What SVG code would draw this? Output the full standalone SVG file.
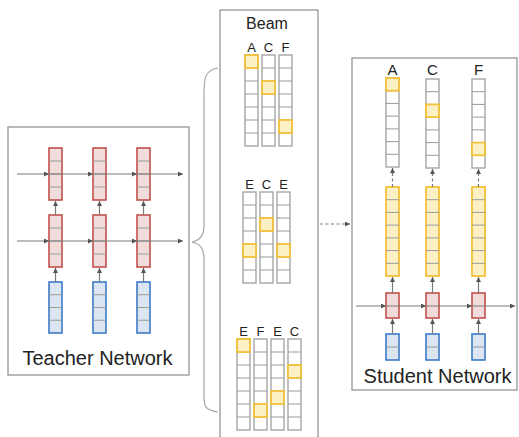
<svg xmlns="http://www.w3.org/2000/svg" width="519" height="437" viewBox="0 0 519 437">
<style>
.box{fill:#fff;stroke:#8c8c8c;stroke-width:1.2}
.red{fill:#f2dcdb;stroke:#c0504d;stroke-width:1.6}
.blue{fill:#dce6f2;stroke:#3d7bc6;stroke-width:1.6}
.yel{fill:#fdf0c4;stroke:#f3c13a;stroke-width:1.8}
.cell{fill:#fff;stroke:#a6a6a6;stroke-width:1.4}
.div{fill:none;stroke:#9a9a9a;stroke-width:1}
.arr{fill:none;stroke:#7a7a7a;stroke-width:1.2}
.dash{fill:none;stroke:#7a7a7a;stroke-width:1.2;stroke-dasharray:3,2.5}
.lbl{font-family:"Liberation Sans","Open Sans",sans-serif;fill:#222;text-anchor:middle}
</style>
<defs>
<marker id="ah" viewBox="0 0 6 6" refX="6" refY="3" markerWidth="5" markerHeight="5" orient="auto" markerUnits="userSpaceOnUse">
<path d="M0,0 L6,3 L0,6 z" fill="#555"/>
</marker>
</defs>

<!-- Teacher network -->
<g id="teacher">
<rect class="box" x="8" y="127" width="181" height="248"/>
<g id="t-red1">
<rect class="red" x="49" y="148" width="13" height="52"/>
<rect class="red" x="93" y="148" width="13" height="52"/>
<rect class="red" x="137" y="148" width="13" height="52"/>
<path class="div" d="M49,161H62M49,174H62M49,187H62M93,161H106M93,174H106M93,187H106M137,161H150M137,174H150M137,187H150"/>
</g>
<g id="t-red2">
<rect class="red" x="49" y="215" width="13" height="52"/>
<rect class="red" x="93" y="215" width="13" height="52"/>
<rect class="red" x="137" y="215" width="13" height="52"/>
<path class="div" d="M49,228H62M49,241H62M49,254H62M93,228H106M93,241H106M93,254H106M137,228H150M137,241H150M137,254H150"/>
</g>
<g id="t-blue">
<rect class="blue" x="49" y="282" width="13" height="51"/>
<rect class="blue" x="93" y="282" width="13" height="51"/>
<rect class="blue" x="137" y="282" width="13" height="51"/>
<path class="div" d="M49,294.75H62M49,307.5H62M49,320.25H62M93,294.75H106M93,307.5H106M93,320.25H106M137,294.75H150M137,307.5H150M137,320.25H150"/>
</g>
<text class="lbl" x="97.5" y="365" font-size="20">Teacher Network</text>
</g>

<!-- Beam -->
<g id="beam">
<rect class="box" x="220" y="10" width="98" height="440"/>
<text class="lbl" x="267" y="29" font-size="16">Beam</text>
<g id="beam1">
<text class="lbl" x="251.5" y="52" font-size="13">A</text>
<text class="lbl" x="268.5" y="52" font-size="13">C</text>
<text class="lbl" x="285.5" y="52" font-size="13">F</text>
<rect class="cell" x="245" y="55" width="13" height="91"/>
<rect class="cell" x="262" y="55" width="13" height="91"/>
<rect class="cell" x="279" y="55" width="13" height="91"/>
<path class="div" d="M245,68H258M245,81H258M245,94H258M245,107H258M245,120H258M245,133H258M262,68H275M262,81H275M262,94H275M262,107H275M262,120H275M262,133H275M279,68H292M279,81H292M279,94H292M279,107H292M279,120H292M279,133H292"/>
<rect class="yel" x="245" y="55" width="13" height="13"/>
<rect class="yel" x="262" y="81" width="13" height="13"/>
<rect class="yel" x="279" y="120" width="13" height="13"/>
</g>
<g id="beam2">
<text class="lbl" x="249.5" y="189" font-size="13">E</text>
<text class="lbl" x="266.5" y="189" font-size="13">C</text>
<text class="lbl" x="283.5" y="189" font-size="13">E</text>
<rect class="cell" x="243" y="192" width="13" height="91"/>
<rect class="cell" x="260" y="192" width="13" height="91"/>
<rect class="cell" x="277" y="192" width="13" height="91"/>
<path class="div" d="M243,205H256M243,218H256M243,231H256M243,244H256M243,257H256M243,270H256M260,205H273M260,218H273M260,231H273M260,244H273M260,257H273M260,270H273M277,205H290M277,218H290M277,231H290M277,244H290M277,257H290M277,270H290"/>
<rect class="yel" x="243" y="244" width="13" height="13"/>
<rect class="yel" x="260" y="218" width="13" height="13"/>
<rect class="yel" x="277" y="244" width="13" height="13"/>
</g>
<g id="beam3">
<text class="lbl" x="243.5" y="336" font-size="13">E</text>
<text class="lbl" x="260.5" y="336" font-size="13">F</text>
<text class="lbl" x="277.5" y="336" font-size="13">E</text>
<text class="lbl" x="294.5" y="336" font-size="13">C</text>
<rect class="cell" x="237" y="339" width="13" height="91"/>
<rect class="cell" x="254" y="339" width="13" height="91"/>
<rect class="cell" x="271" y="339" width="13" height="91"/>
<rect class="cell" x="288" y="339" width="13" height="91"/>
<path class="div" d="M237,352H250M237,365H250M237,378H250M237,391H250M237,404H250M237,417H250M254,352H267M254,365H267M254,378H267M254,391H267M254,404H267M254,417H267M271,352H284M271,365H284M271,378H284M271,391H284M271,404H284M271,417H284M288,352H301M288,365H301M288,378H301M288,391H301M288,404H301M288,417H301"/>
<rect class="yel" x="237" y="339" width="13" height="13"/>
<rect class="yel" x="254" y="404" width="13" height="13"/>
<rect class="yel" x="271" y="391" width="13" height="13"/>
<rect class="yel" x="288" y="365" width="13" height="13"/>
</g>
</g>

<!-- Student network -->
<g id="student">
<rect class="box" x="352" y="58" width="165" height="332"/>
<g id="s-out">
<text class="lbl" x="392.5" y="75" font-size="15">A</text>
<text class="lbl" x="432.5" y="75" font-size="15">C</text>
<text class="lbl" x="478.5" y="75" font-size="15">F</text>
<rect class="cell" x="386" y="78" width="13" height="89"/>
<rect class="cell" x="426" y="79" width="13" height="89"/>
<rect class="cell" x="472" y="79" width="13" height="89"/>
<path class="div" d="M386,90.7H399M386,103.4H399M386,116.1H399M386,128.9H399M386,141.6H399M386,154.3H399M426,91.7H439M426,104.4H439M426,117.1H439M426,129.9H439M426,142.6H439M426,155.3H439M472,91.7H485M472,104.4H485M472,117.1H485M472,129.9H485M472,142.6H485M472,155.3H485"/>
<rect class="yel" x="386" y="78" width="13" height="12.7"/>
<rect class="yel" x="426" y="104.4" width="13" height="12.7"/>
<rect class="yel" x="472" y="142.6" width="13" height="12.7"/>
</g>
<g id="s-yel">
<rect class="yel" x="386" y="187" width="13" height="89"/>
<rect class="yel" x="426" y="187" width="13" height="89"/>
<rect class="yel" x="472" y="187" width="13" height="89"/>
<path class="div" d="M386,199.7H399M386,212.4H399M386,225.1H399M386,237.9H399M386,250.6H399M386,263.3H399M426,199.7H439M426,212.4H439M426,225.1H439M426,237.9H439M426,250.6H439M426,263.3H439M472,199.7H485M472,212.4H485M472,225.1H485M472,237.9H485M472,250.6H485M472,263.3H485"/>
</g>
<g id="s-red">
<rect class="red" x="386" y="293" width="13" height="25"/>
<rect class="red" x="426" y="293" width="13" height="25"/>
<rect class="red" x="472" y="293" width="13" height="25"/>
</g>
<g id="s-blue">
<rect class="blue" x="386" y="334" width="13" height="26"/>
<rect class="blue" x="426" y="334" width="13" height="26"/>
<rect class="blue" x="472" y="334" width="13" height="26"/>
<path class="div" d="M386,347H399M426,347H439M472,347H485"/>
</g>
<text class="lbl" x="437.5" y="383" font-size="20">Student Network</text>
</g>

<!-- Connectors -->
<g id="connectors">
<polyline class="arr" points="17,174 49,174 93,174 137,174 183,174" marker-mid="url(#ah)" marker-end="url(#ah)"/>
<polyline class="arr" points="17,241 49,241 93,241 137,241 183,241" marker-mid="url(#ah)" marker-end="url(#ah)"/>
<path class="arr" d="M55.5,282V268" marker-end="url(#ah)"/>
<path class="arr" d="M99.5,282V268" marker-end="url(#ah)"/>
<path class="arr" d="M143.5,282V268" marker-end="url(#ah)"/>
<path class="arr" d="M55.5,215V201" marker-end="url(#ah)"/>
<path class="arr" d="M99.5,215V201" marker-end="url(#ah)"/>
<path class="arr" d="M143.5,215V201" marker-end="url(#ah)"/>
<path d="M218,68 C204,70 204,80 204,95 L204,225 C204,236 200,240 192,242 C200,244 204,248 204,259 L204,395 C204,406 204,410 218,412" fill="none" stroke="#a6a6a6" stroke-width="1.2"/>
<path class="dash" d="M320,224H350" marker-end="url(#ah)"/>
<polyline class="arr" points="356,306 386,306 426,306 472,306 515,306" marker-mid="url(#ah)" marker-end="url(#ah)"/>
<path class="arr" d="M392.5,334V319" marker-end="url(#ah)"/>
<path class="arr" d="M432.5,334V319" marker-end="url(#ah)"/>
<path class="arr" d="M478.5,334V319" marker-end="url(#ah)"/>
<path class="arr" d="M392.5,293V277" marker-end="url(#ah)"/>
<path class="arr" d="M432.5,293V277" marker-end="url(#ah)"/>
<path class="arr" d="M478.5,293V277" marker-end="url(#ah)"/>
<path class="dash" d="M392.5,187V168" marker-end="url(#ah)"/>
<path class="dash" d="M432.5,187V169" marker-end="url(#ah)"/>
<path class="dash" d="M478.5,187V169" marker-end="url(#ah)"/>
</g>
</svg>
